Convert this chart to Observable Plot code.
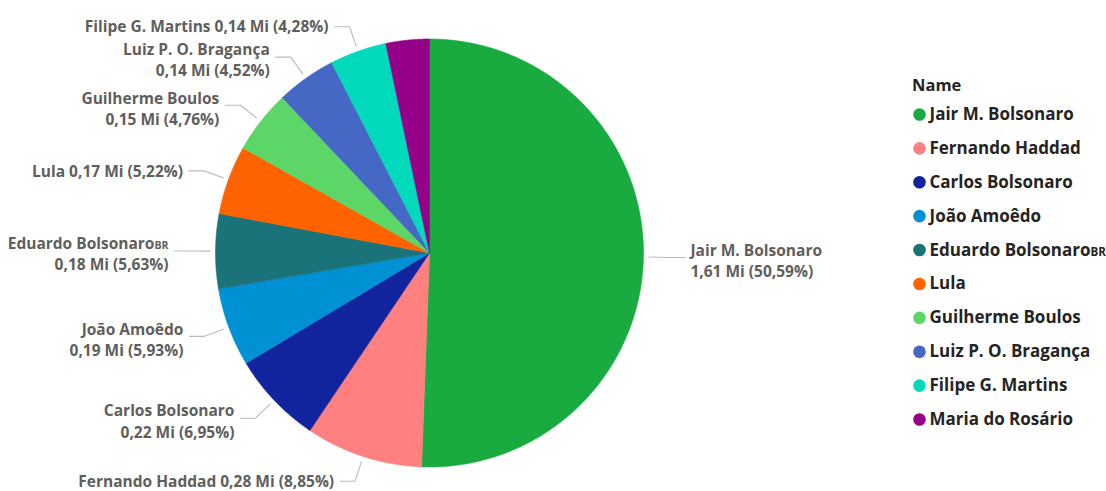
<!DOCTYPE html>
<html>
<head>
<meta charset="utf-8">
<script src="https://cdn.jsdelivr.net/npm/d3@7"></script>
<script src="https://cdn.jsdelivr.net/npm/@observablehq/plot@0.6"></script>
<style>
  body { margin: 0; background: #fff; }
  #wrap { position: relative; width: 1106px; height: 491px; font-family: "Open Sans", "Noto Sans", sans-serif; }
  #pie { position: absolute; left: 0; top: 0; }
  #legendTitle { position: absolute; left: 912px; top: 74px; font-size: 16.5px; font-weight: 700; color: #252423; line-height: 22px; }
  #legend { position: absolute; left: 900px; top: 97px; }
</style>
</head>
<body>
<div id="wrap">
  <div id="pie"></div>
  <div id="legendTitle">Name</div>
  <div id="legend"></div>
</div>
<script>
// ---- data ----
const names = ["Jair M. Bolsonaro", "Fernando Haddad", "Carlos Bolsonaro", "João Amoêdo",
  "Eduardo BolsonaroBR", "Lula", "Guilherme Boulos", "Luiz P. O. Bragança",
  "Filipe G. Martins", "Maria do Rosário"];
const shares = [50.59, 8.85, 6.95, 5.93, 5.63, 5.22, 4.76, 4.52, 4.28, 3.27];
const valueLabels = ["1,61 Mi", "0,28 Mi", "0,22 Mi", "0,19 Mi", "0,18 Mi", "0,17 Mi", "0,15 Mi", "0,14 Mi", "0,14 Mi", "0,10 Mi"];
const shareLabels = ["50,59%", "8,85%", "6,95%", "5,93%", "5,63%", "5,22%", "4,76%", "4,52%", "4,28%", "3,27%"];
const labelTwoLines = [true, false, true, true, true, false, true, true, false, false];
const labelShown = [true, true, true, true, true, true, true, true, true, false];
const colors = ["#1AAB40", "#FF8080", "#12239E", "#0091D5", "#1A7378", "#FF6300", "#5BD667", "#4668C5", "#00D9BC", "#940088"];

// ---- layout ----
const W = 880, H = 491, CX = 429, CY = 252.5, R = 214;
const rows = names.map((name, i) => ({name, share: shares[i], value: valueLabels[i], pct: shareLabels[i], two: labelTwoLines[i], shown: labelShown[i]}));
const arcs = d3.pie().sort(null).value(d => d.share)(rows);
const pt = (r, a) => [r * Math.sin(a), -r * Math.cos(a)];

// slice polygons
const slicePts = [];
for (const a of arcs) {
  slicePts.push({name: a.data.name, x: 0, y: 0});
  const n = Math.max(2, Math.ceil((a.endAngle - a.startAngle) / (Math.PI / 720)));
  for (let k = 0; k <= n; k++) {
    const ang = a.startAngle + (a.endAngle - a.startAngle) * k / n;
    const [x, y] = pt(R, ang);
    slicePts.push({name: a.data.name, x, y});
  }
  slicePts.push({name: a.data.name, x: 0, y: 0});
}

// leader lines and labels
const leaderPts = [];
const labels = [];
for (const a of arcs) {
  if (!a.data.shown) continue;
  const mid = (a.startAngle + a.endAngle) / 2;
  const right = Math.sin(mid) > 0;
  const [sx, sy] = pt(R + 5.5, mid);
  const [ex, ey] = pt(R + 26, mid);
  const endX = ex + (right ? 16 : -15);
  leaderPts.push({name: a.data.name, x: sx, y: sy}, {name: a.data.name, x: ex, y: ey}, {name: a.data.name, x: endX, y: ey});
  const text = a.data.two ? `${a.data.name}\n${a.data.value} (${a.data.pct})` : `${a.data.name} ${a.data.value} (${a.data.pct})`;
  labels.push({x: ex + (right ? 21 : -21), y: ey + (a.data.two ? 2 : -1), text, anchor: right ? "start" : "end"});
}

const labelStyle = {fill: "#605E5C", fontSize: 15.5, fontWeight: 700, lineAnchor: "middle", lineHeight: 1.36};
const pie = Plot.plot({
  width: W, height: H, margin: 0,
  x: {domain: [-CX, W - CX], range: [0, W], axis: null},
  y: {domain: [-CY, H - CY], range: [0, H], axis: null},
  color: {domain: names, range: colors},
  style: {fontFamily: "Open Sans, sans-serif", background: "white"},
  marks: [
    Plot.line(slicePts, {x: "x", y: "y", z: "name", fill: "name", stroke: "name", strokeWidth: 0.6, curve: "linear"}),
    Plot.line(leaderPts, {x: "x", y: "y", z: "name", stroke: "#BDBBB9", strokeWidth: 1.1}),
    Plot.text(labels.filter(d => d.anchor === "end"), {x: "x", y: "y", text: "text", textAnchor: "end", ...labelStyle}),
    Plot.text(labels.filter(d => d.anchor === "start"), {x: "x", y: "y", text: "text", textAnchor: "start", ...labelStyle})
  ]
});
document.getElementById("pie").appendChild(pie);

const legend = Plot.plot({
  width: 206, height: 340, margin: 0,
  x: {axis: null},
  y: {type: "point", domain: names, range: [17, 322], padding: 0, round: false, axis: null},
  color: {domain: names, range: colors},
  style: {fontFamily: "Open Sans, sans-serif", background: "white", overflow: "visible"},
  marks: [
    Plot.dot(names, {y: d => d, fill: d => d, r: 6.3, frameAnchor: "left", dx: 19}),
    Plot.text(names, {y: d => d, text: d => d, frameAnchor: "left", dx: 29, textAnchor: "start", fill: "#252423", fontSize: 17, fontWeight: 700})
  ]
});
document.getElementById("legend").appendChild(legend);

// render the trailing "BR" of Eduardo's name in a smaller size, as in the original
function shrinkBR(svg) {
  const walker = document.createTreeWalker(svg, NodeFilter.SHOW_TEXT);
  const hits = [];
  while (walker.nextNode()) if (walker.currentNode.nodeValue.includes("BolsonaroBR")) hits.push(walker.currentNode);
  for (const node of hits) {
    const [before, after] = node.nodeValue.split("BolsonaroBR");
    const parent = node.parentNode;
    const small = document.createElementNS("http://www.w3.org/2000/svg", "tspan");
    small.setAttribute("font-size", "0.68em");
    small.textContent = "BR";
    parent.insertBefore(document.createTextNode(before + "Bolsonaro"), node);
    parent.insertBefore(small, node);
    if (after) parent.insertBefore(document.createTextNode(after), node);
    parent.removeChild(node);
  }
}
shrinkBR(pie);
shrinkBR(legend);
</script>
</body>
</html>
